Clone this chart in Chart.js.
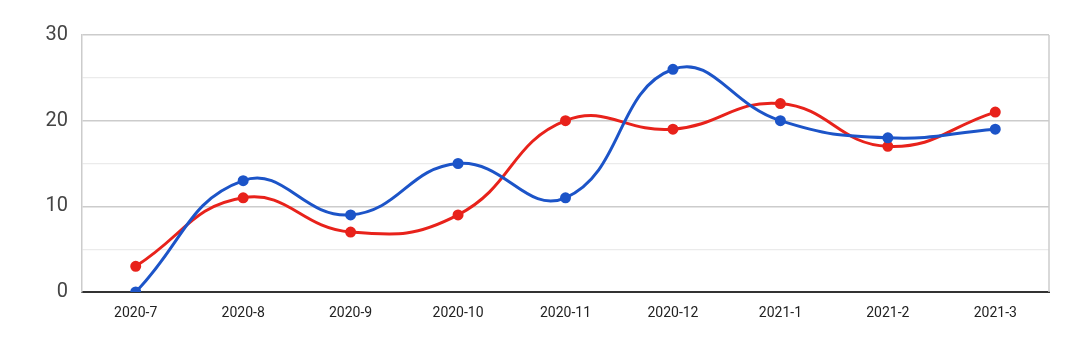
<!DOCTYPE html>
<html>
<head>
<meta charset="utf-8">
<script src="https://cdn.jsdelivr.net/npm/chart.js@4/dist/chart.umd.min.js"></script>
<style>
  html, body { margin: 0; padding: 0; background: #fff; }
  #wrap { width: 1080px; height: 340px; }
</style>
</head>
<body>
<div id="wrap"><canvas id="chart" width="1080" height="340"></canvas></div>
<script>
    "use strict";

    // months on the x axis
    var months = ["2020-7", "2020-8", "2020-9", "2020-10", "2020-11", "2020-12", "2021-1", "2021-2", "2021-3"];

    // series values
    var blueValues = [0, 13, 9, 15, 11, 26, 20, 18, 19];
    var redValues = [3, 11, 7, 9, 20, 19, 22, 17, 21];

    var yMin = 0, yMax = 30, yStep = 5;

    // right hand border of the plot frame
    var frameRight = {
        id: 'frameRight',
        beforeDatasetsDraw: function (chart) {
            var a = chart.chartArea, ctx = chart.ctx;
            ctx.save();
            ctx.strokeStyle = '#cccccc';
            ctx.lineWidth = 1.5;
            ctx.beginPath();
            ctx.moveTo(a.right, a.top);
            ctx.lineTo(a.right, a.bottom);
            ctx.stroke();
            ctx.restore();
        }
    };

    new Chart(document.getElementById('chart'), {
        type: 'line',
        data: {
            labels: months,
            datasets: [{
                data: blueValues,
                borderColor: '#1c54c8',
                backgroundColor: '#1c54c8',
                borderWidth: 3,
                pointRadius: 4,
                pointHoverRadius: 4,
                tension: 0.45
            }, {
                data: redValues,
                borderColor: '#e8221b',
                backgroundColor: '#e8221b',
                borderWidth: 3,
                pointRadius: 4,
                pointHoverRadius: 4,
                tension: 0.45
            }]
        },
        options: {
            responsive: false,
            animation: false,
            layout: { padding: { left: 0, right: 31, top: 35, bottom: 0 } },
            plugins: { legend: { display: false }, tooltip: { enabled: false } },
            scales: {
                x: {
                    offset: true,
                    grid: { display: false, drawTicks: false },
                    border: { display: true, color: '#333333', width: 2 },
                    ticks: {
                        color: '#222222',
                        padding: 13,
                        maxRotation: 0,
                        font: { family: 'Roboto', size: 14 }
                    },
                    afterFit: function (s) { s.height = 48; }
                },
                y: {
                    min: yMin,
                    max: yMax,
                    grid: {
                        drawTicks: false,
                        lineWidth: function (c) { return c.tick && c.tick.value % 10 === 0 ? 1.5 : 1.2; },
                        color: function (c) { return c.tick && c.tick.value % 10 === 0 ? '#cccccc' : '#ebebeb'; }
                    },
                    border: { display: true, color: '#cccccc', width: 1.5 },
                    ticks: {
                        stepSize: yStep,
                        color: '#444444',
                        padding: 14,
                        font: { family: 'Roboto', size: 20 },
                        callback: function (v) { return v % 10 === 0 ? v : ''; }
                    },
                    afterFit: function (s) { s.width = 82; }
                }
            }
        },
        plugins: [frameRight]
    });
</script>
</body>
</html>
